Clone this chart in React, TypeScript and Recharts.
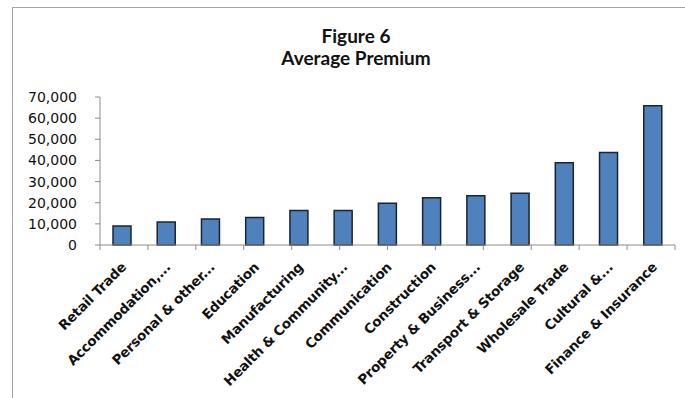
import { BarChart, Bar, XAxis, YAxis } from 'recharts'

const industries = [
  'Retail Trade',
  'Accommodation,...',
  'Personal & other...',
  'Education',
  'Manufacturing',
  'Health & Community...',
  'Communication',
  'Construction',
  'Property & Business...',
  'Transport & Storage',
  'Wholesale Trade',
  'Cultural &...',
  'Finance & Insurance',
]

const avgPremium = [
  9000, 10900, 12300, 13000, 16300, 16300, 19800, 22400, 23300, 24500, 38900, 43700, 65900,
]

const yTicks = [0, 10000, 20000, 30000, 40000, 50000, 60000, 70000]

// boundaries between categories, used for the tick marks under the bars
const edgeTicks = industries.map((_, i) => i).concat(industries.length)

const rows = industries.map((name, i) => ({ name, premium: avgPremium[i] }))

const axisGrey = '#8c8c8c'

function SlantedTick({ x, y, payload }: any) {
  return (
    <text
      transform={`translate(${x + 5},${y + 14}) rotate(-45)`}
      textAnchor="end"
      fontFamily="DejaVu Sans"
      fontWeight="bold"
      fontSize={13.5}
      letterSpacing={-0.2}
      fill="#111"
    >
      {payload.value}
    </text>
  )
}

// empty label for the boundary axis: only its tick lines are wanted
const NoLabel = () => <g />

export default function App() {
  return (
    <div
      style={{
        position: 'absolute',
        left: 0,
        top: 0,
        width: 685,
        height: 398,
        background: '#fff',
        overflow: 'hidden',
      }}
    >
      <div
        style={{
          position: 'absolute',
          left: 12,
          top: 7,
          width: 720,
          height: 420,
          border: '1.5px solid #a6a6a6',
        }}
      />
      <div
        style={{
          position: 'absolute',
          left: 256,
          top: 25,
          width: 200,
          textAlign: 'center',
          fontFamily: 'Lato',
          fontWeight: 'bold',
          fontSize: 19,
          lineHeight: '22px',
          color: '#111',
        }}
      >
        <div>Figure 6</div>
        <div>Average Premium</div>
      </div>
      <div style={{ position: 'absolute', left: 0, top: 0 }}>
        <BarChart
          width={685}
          height={398}
          data={rows}
          margin={{ top: 97, right: 10, bottom: 13, left: 20 }}
        >
          <XAxis
            xAxisId={0}
            type="number"
            domain={[0, industries.length]}
            ticks={edgeTicks}
            interval={0}
            tick={<NoLabel />}
            height={1}
            stroke={axisGrey}
            tickLine={{ stroke: axisGrey }}
            tickSize={5}
            allowDataOverflow
          />
          <XAxis
            xAxisId={1}
            dataKey="name"
            interval={0}
            axisLine={false}
            tickLine={false}
            height={139}
            tick={<SlantedTick />}
          />
          <YAxis
            domain={[0, 70000]}
            ticks={yTicks}
            width={80}
            stroke={axisGrey}
            tickSize={5}
            tickMargin={18}
            tick={{ fill: '#111', fontFamily: 'DejaVu Sans', fontSize: 14 }}
            tickFormatter={(v: number) => v.toLocaleString('en-US')}
          />
          <Bar
            xAxisId={1}
            dataKey="premium"
            fill="#4f81bd"
            stroke="#1a2433"
            strokeWidth={1.5}
            barSize={18}
            isAnimationActive={false}
          />
        </BarChart>
      </div>
    </div>
  )
}
